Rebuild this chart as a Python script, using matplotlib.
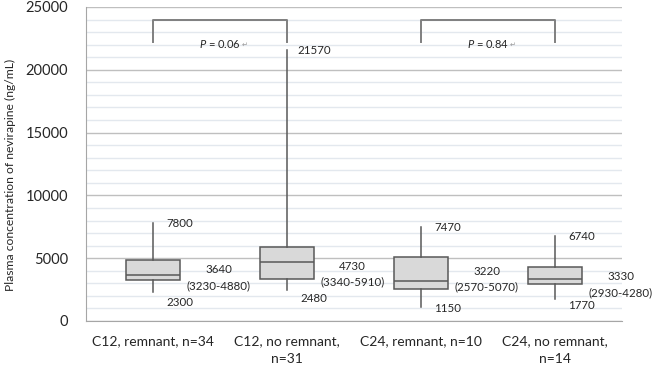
import matplotlib
matplotlib.use("Agg")
import matplotlib.pyplot as plt
from matplotlib.ticker import MultipleLocator

plt.rcParams['font.family'] = ['Lato', 'DejaVu Sans']
plt.rcParams['mathtext.fontset'] = 'custom'
plt.rcParams['mathtext.it'] = 'Lato:italic'
plt.rcParams['mathtext.rm'] = 'Lato'

# data
groups = ["C12, remnant, n=34", "C12, no remnant,\nn=31",
          "C24, remnant, n=10", "C24, no remnant,\nn=14"]
medians = [3640, 4730, 3220, 3330]
q1 = [3230, 3340, 2570, 2930]
q3 = [4880, 5910, 5070, 4280]
mins = [2300, 2480, 1150, 1770]
maxs = [7800, 21570, 7470, 6740]
p_values = ["0.06", "0.84"]
pairs = [(1, 2), (3, 4)]

# where the hand-placed labels sit (y in data units)
low_label_y = [1460, 1830, 1035, 1230]
iqr_label_y = [3450, 3715, 3330, 2890]

box_color = "#d9d9d9"
line_color = "#595959"
text_color = "#262626"

fig = plt.figure(figsize=(6.53, 3.71), dpi=100)
ax = fig.add_axes([86 / 653, 1 - 321 / 371, 536 / 653, 314 / 371])

stats = []
for i in range(len(groups)):
    stats.append({"med": medians[i], "q1": q1[i], "q3": q3[i],
                  "whislo": mins[i], "whishi": maxs[i], "fliers": []})

ax.bxp(stats, positions=range(1, 5), widths=0.4, showfliers=False,
       patch_artist=True, showcaps=False,
       boxprops=dict(facecolor=box_color, edgecolor=line_color, linewidth=1.1),
       medianprops=dict(color=line_color, linewidth=1.1),
       whiskerprops=dict(color=line_color, linewidth=1.1),
       zorder=3)

ax.set_xlim(0.5, 4.5)
ax.set_ylim(0, 25000)
ax.yaxis.set_major_locator(MultipleLocator(5000))
ax.yaxis.set_minor_locator(MultipleLocator(1000))
ax.grid(which="major", axis="y", color="#bfbfbf", linewidth=1.0, zorder=0)
ax.grid(which="minor", axis="y", color="#e3e8ee", linewidth=1.0, zorder=0)
ax.set_axisbelow(True)

for s in ["top", "right"]:
    ax.spines[s].set_visible(False)
ax.spines["left"].set_color("#a6a6a6")
ax.spines["bottom"].set_color("#a6a6a6")

ax.set_xticks(range(1, 5))
ax.set_xticklabels(groups, fontsize=10, color=text_color, linespacing=1.6)
ax.tick_params(axis="x", length=0, pad=10)
ax.tick_params(axis="y", which="both", length=0, pad=13, labelsize=10.5,
               labelcolor=text_color)

ax.set_ylabel("Plasma concentration of nevirapine (ng/mL)", fontsize=8.7,
              color=text_color)
ax.yaxis.set_label_coords(-0.13, 0.465)

# value labels
for i in range(len(groups)):
    x = i + 1
    ax.text(x + 0.2, maxs[i], str(maxs[i]), ha="center", va="center",
            fontsize=8.3, color=text_color)
    ax.text(x + 0.2, low_label_y[i], str(mins[i]), ha="center", va="center",
            fontsize=8.3, color=text_color)
    ax.text(x + 0.49, iqr_label_y[i], "%d\n(%d-%d)" % (medians[i], q1[i], q3[i]),
            ha="center", va="center", fontsize=8.3, color=text_color,
            linespacing=1.5)

# significance brackets
for (a, b), p in zip(pairs, p_values):
    ax.plot([a, a, b, b], [22250, 24000, 24000, 22250], color="#7f7f7f",
            linewidth=1.4, zorder=4)
    t = ax.text((a + b) / 2, 22050, "$P$ = " + p, ha="center", va="center",
                fontsize=8, color=text_color)
    ax.annotate("\u21b5", xy=(1, 0.45), xycoords=t, xytext=(0.5, 0),
                textcoords="offset points", ha="left", va="center",
                fontsize=5, color="#999999", family="DejaVu Sans")

fig.savefig("out.png", dpi=100)
